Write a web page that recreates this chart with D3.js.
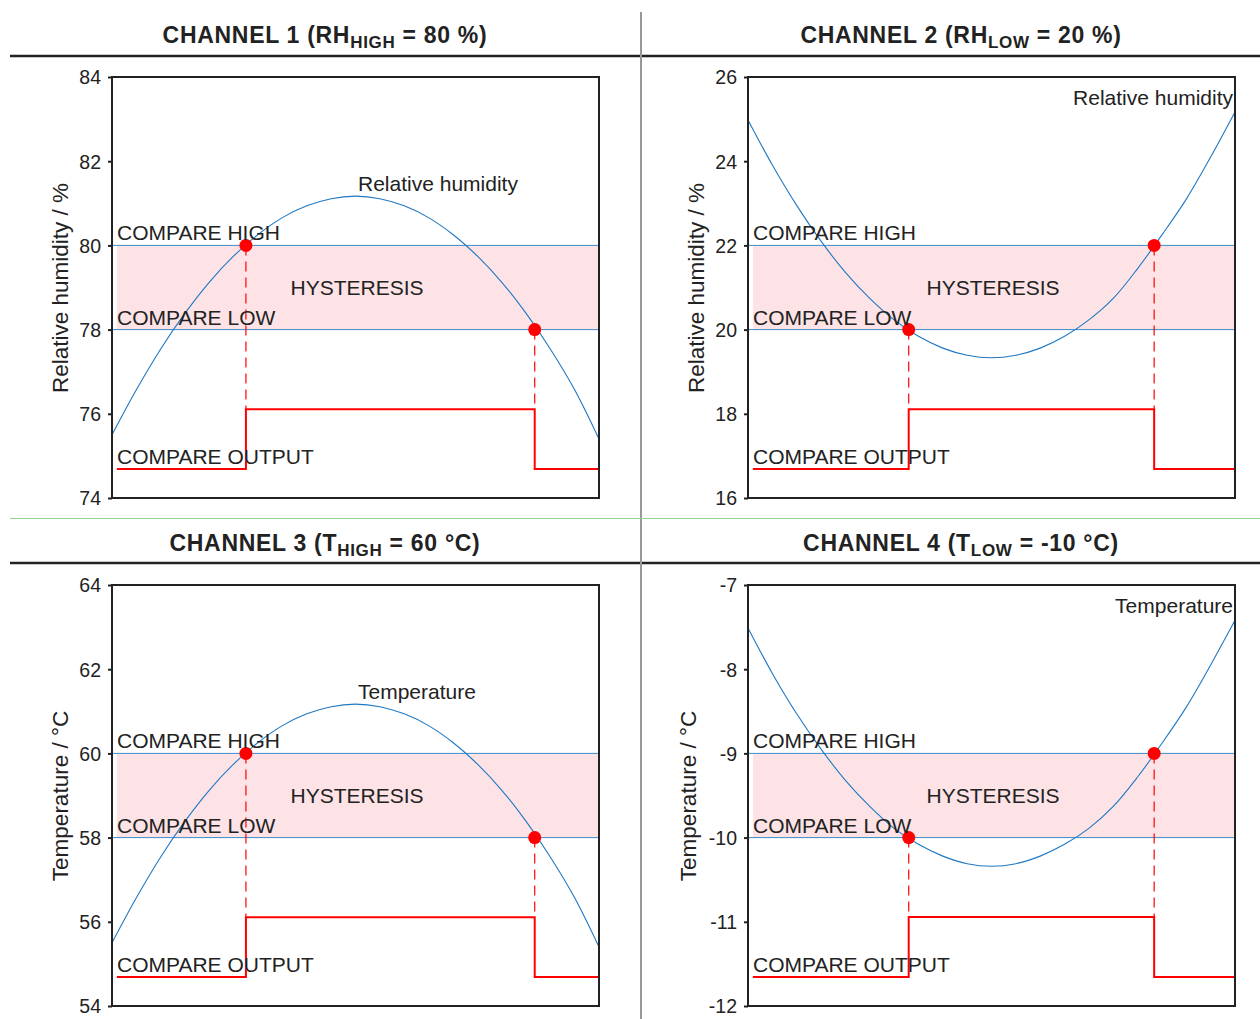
<!DOCTYPE html>
<html>
<head>
<meta charset="utf-8">
<script src="https://cdn.jsdelivr.net/npm/d3@7"></script>
<style>
  body { margin: 0; background: #fff; }
  svg { font-family: "Liberation Sans", Arial, sans-serif; }
  .tick text { font-size: 19.5px; fill: #222; }
  .lbl { font-size: 21px; fill: #222; }
</style>
</head>
<body>
<script>
// ---------------- data ----------------
var tValues = [0, 5, 10, 15, 20, 25, 30, 35, 40, 45, 50, 55, 60, 65, 70, 75, 80, 85, 90, 95, 100];

var ch1Values = [75.50, 76.57, 77.54, 78.39, 79.13, 79.75, 80.26, 80.66, 80.94, 81.11, 81.17,
                 81.11, 80.94, 80.66, 80.26, 79.75, 79.13, 78.39, 77.54, 76.57, 75.40];
var ch2Values = [24.98, 23.91, 22.95, 22.10, 21.36, 20.74, 20.23, 19.84, 19.56, 19.39, 19.33,
                 19.39, 19.56, 19.84, 20.23, 20.74, 21.45, 22.25, 23.10, 24.10, 25.17];
var ch3Values = [55.50, 56.57, 57.54, 58.39, 59.13, 59.75, 60.26, 60.66, 60.94, 61.11, 61.17,
                 61.11, 60.94, 60.66, 60.26, 59.75, 59.13, 58.39, 57.54, 56.57, 55.40];
var ch4Values = [-7.51, -8.05, -8.53, -8.95, -9.32, -9.63, -9.89, -10.08, -10.22, -10.31, -10.34,
                 -10.31, -10.22, -10.08, -9.89, -9.63, -9.28, -8.88, -8.45, -7.95, -7.42];

var ch1Ticks = [74, 76, 78, 80, 82, 84];
var ch2Ticks = [16, 18, 20, 22, 24, 26];
var ch3Ticks = [54, 56, 58, 60, 62, 64];
var ch4Ticks = [-12, -11, -10, -9, -8, -7];

// compare high / compare low thresholds
var ch1Limits = [80, 78];
var ch2Limits = [22, 20];
var ch3Limits = [60, 58];
var ch4Limits = [-9, -10];

// where the curve crosses the thresholds (x position, value)
var ch1Cross = [[27.5, 80], [86.8, 78]];
var ch2Cross = [[33.0, 20], [83.4, 22]];
var ch3Cross = [[27.5, 60], [86.8, 58]];
var ch4Cross = [[33.0, -10], [83.4, -9]];

// compare output: low level, high level
var ch1Output = [74.69, 76.11];
var ch2Output = [16.69, 18.11];
var ch3Output = [54.69, 56.11];
var ch4Output = [-11.655, -10.943];

var panels = [
  {title: ["CHANNEL 1 (RH", "HIGH", " = 80 %)"], ylabel: "Relative humidity / %", curve: "Relative humidity",
   vals: ch1Values, ticks: ch1Ticks, lim: ch1Limits, cross: ch1Cross, out: ch1Output, col: 0, row: 0, lx: 68},
  {title: ["CHANNEL 2 (RH", "LOW", " = 20 %)"], ylabel: "Relative humidity / %", curve: "Relative humidity",
   vals: ch2Values, ticks: ch2Ticks, lim: ch2Limits, cross: ch2Cross, out: ch2Output, col: 1, row: 0, lx: 68},
  {title: ["CHANNEL 3 (T", "HIGH", " = 60 °C)"], ylabel: "Temperature / °C", curve: "Temperature",
   vals: ch3Values, ticks: ch3Ticks, lim: ch3Limits, cross: ch3Cross, out: ch3Output, col: 0, row: 1, lx: 68},
  {title: ["CHANNEL 4 (T", "LOW", " = -10 °C)"], ylabel: "Temperature / °C", curve: "Temperature",
   vals: ch4Values, ticks: ch4Ticks, lim: ch4Limits, cross: ch4Cross, out: ch4Output, col: 1, row: 1, lx: 60}
];

var W = 1260, H = 1019;
var svg = d3.select("body").append("svg").attr("width", W).attr("height", H);

// -------------------- frame / dividers --------------------
svg.append("line").attr("x1", 641).attr("x2", 641).attr("y1", 12).attr("y2", H)
    .style("stroke", "#333").style("stroke-width", 1);
svg.append("line").attr("x1", 10).attr("x2", W).attr("y1", 518.5).attr("y2", 518.5)
    .style("stroke", "#8fd48f").style("stroke-width", 1);
[56, 563].forEach(function(y) {
    svg.append("line").attr("x1", 10).attr("x2", 640).attr("y1", y).attr("y2", y)
        .style("stroke", "#222").style("stroke-width", 2.5);
    svg.append("line").attr("x1", 642).attr("x2", W).attr("y1", y).attr("y2", y)
        .style("stroke", "#222").style("stroke-width", 2.5);
});

function plot_panel(p) {
    var ox = p.col * 636, oy = p.row * 508;
    var x = d3.scaleLinear().domain([0, 100]).range([112 + ox, 599 + ox]);
    var y = d3.scaleLinear().domain([p.ticks[0], p.ticks[p.ticks.length - 1]]).range([498 + oy, 77 + oy]);
    var g = svg.append("g");

    // title with subscript
    var t = g.append("text")
        .attr("x", 325 + ox).attr("y", 43 + oy)
        .attr("text-anchor", "middle")
        .style("font-weight", "bold").style("font-size", "23px").style("fill", "#222")
        .style("letter-spacing", "0.7px");
    t.append("tspan").text(p.title[0]);
    t.append("tspan").attr("dy", 5).style("font-size", "17px").text(p.title[1]);
    t.append("tspan").attr("dy", -5).text(p.title[2]);

    // hysteresis band
    g.append("rect")
        .attr("x", x(1)).attr("width", x(100) - x(1))
        .attr("y", y(p.lim[0])).attr("height", y(p.lim[1]) - y(p.lim[0]))
        .style("fill", "#fde3e6");

    // threshold lines
    p.lim.forEach(function(v) {
        g.append("line").attr("x1", x(0)).attr("x2", x(100)).attr("y1", y(v)).attr("y2", y(v))
            .style("stroke", "#3a8ccc").style("stroke-width", 1);
    });

    // curve
    var line = d3.line()
        .x(function(d, i) { return x(tValues[i]); })
        .y(function(d) { return y(d); })
        .curve(d3.curveCatmullRom);
    g.append("path").attr("d", line(p.vals))
        .style("fill", "none").style("stroke", "#1f78c4").style("stroke-width", 1.1);

    // compare output step
    var a = p.cross[0][0], b = p.cross[1][0];
    var step = [[1, p.out[0]], [a, p.out[0]], [a, p.out[1]], [b, p.out[1]], [b, p.out[0]], [100, p.out[0]]];
    g.append("path")
        .attr("d", d3.line().x(function(d) { return x(d[0]); }).y(function(d) { return y(d[1]); })(step))
        .style("fill", "none").style("stroke", "#ff0000").style("stroke-width", 2);

    // dashed drop lines and dots
    p.cross.forEach(function(c) {
        g.append("line").attr("x1", x(c[0])).attr("x2", x(c[0]))
            .attr("y1", y(c[1])).attr("y2", y(p.out[1]))
            .style("stroke", "#ff0000").style("stroke-width", 1.2).style("stroke-dasharray", "10,6");
    });
    p.cross.forEach(function(c) {
        g.append("circle").attr("cx", x(c[0])).attr("cy", y(c[1])).attr("r", 6.5)
            .style("fill", "#ff0000");
    });

    // axis box
    g.append("rect").attr("x", x(0)).attr("y", y.range()[1])
        .attr("width", x(100) - x(0)).attr("height", y.range()[0] - y.range()[1])
        .style("fill", "none").style("stroke", "#222").style("stroke-width", 2);

    var ax = g.append("g").attr("transform", "translate(" + x(0) + ",0)")
        .call(d3.axisLeft(y).tickValues(p.ticks).tickSize(4).tickPadding(7)
            .tickFormat(function(d) { return String(d); }));
    ax.select(".domain").remove();
    ax.selectAll(".tick line").style("stroke", "#222").style("stroke-width", 2);
    ax.selectAll(".tick text").attr("dy", "0.35em").style("font-family", "Liberation Sans, Arial, sans-serif");

    // y label
    g.append("text").attr("class", "lbl").style("font-size", "22.5px")
        .attr("transform", "translate(" + (p.lx + ox) + "," + (288 + oy) + ") rotate(-90)")
        .attr("text-anchor", "middle").text(p.ylabel);

    // annotations
    g.append("text").attr("class", "lbl").attr("x", 117 + ox).attr("y", y(p.lim[0]) - 5).text("COMPARE HIGH");
    g.append("text").attr("class", "lbl").attr("x", 117 + ox).attr("y", y(p.lim[1]) - 5).text("COMPARE LOW");
    g.append("text").attr("class", "lbl").attr("x", 357 + ox).attr("text-anchor", "middle")
        .attr("y", (y(p.lim[0]) + y(p.lim[1])) / 2 + 7).text("HYSTERESIS");
    g.append("text").attr("class", "lbl").attr("x", 117 + ox).attr("y", y(p.out[0]) - 5).text("COMPARE OUTPUT");

    if (p.col === 0) {
        g.append("text").attr("class", "lbl")
            .attr("x", 358 + ox).attr("y", 191 + oy).text(p.curve);
    } else {
        g.append("text").attr("class", "lbl")
            .attr("x", 1233).attr("y", 105 + oy).attr("text-anchor", "end").text(p.curve);
    }
}

panels.forEach(plot_panel);
</script>
</body>
</html>
